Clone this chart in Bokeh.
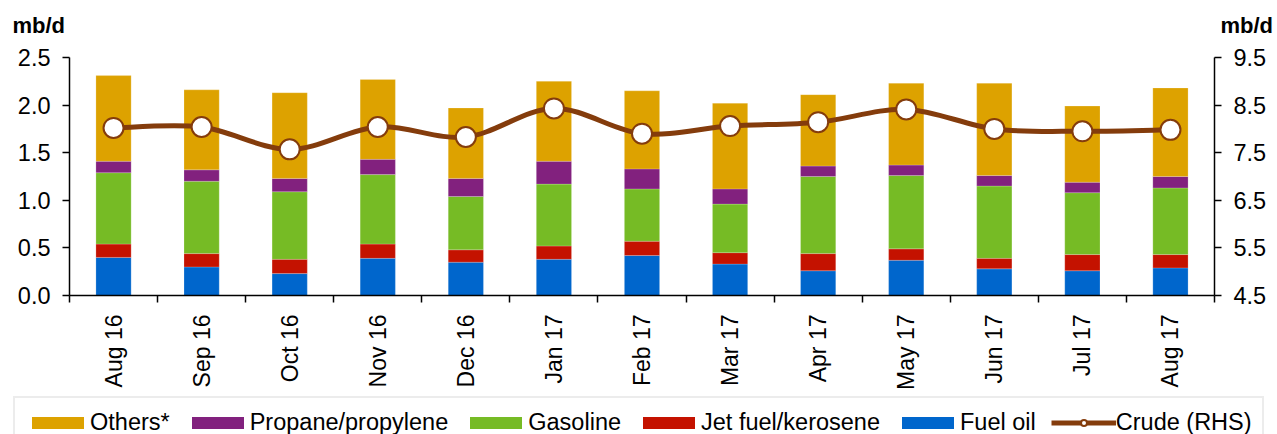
import numpy as np
from bokeh.plotting import figure
from bokeh.models import (Range1d, LinearAxis, FixedTicker, Legend, LegendItem,
                          ColumnDataSource, NumeralTickFormatter)
from bokeh.core.properties import value
from bokeh.embed import file_html
from bokeh.resources import INLINE

# ---------------- data ----------------
months = ["Aug 16", "Sep 16", "Oct 16", "Nov 16", "Dec 16", "Jan 17", "Feb 17",
          "Mar 17", "Apr 17", "May 17", "Jun 17", "Jul 17", "Aug 17"]
fuel_oil = [0.40, 0.30, 0.23, 0.39, 0.35, 0.38, 0.42, 0.33, 0.26, 0.37, 0.28, 0.26, 0.29]
jet_fuel = [0.14, 0.14, 0.15, 0.15, 0.13, 0.14, 0.15, 0.12, 0.18, 0.12, 0.11, 0.17, 0.14]
gasoline = [0.75, 0.76, 0.71, 0.73, 0.56, 0.65, 0.55, 0.51, 0.81, 0.77, 0.76, 0.65, 0.70]
propane = [0.12, 0.12, 0.14, 0.16, 0.19, 0.24, 0.21, 0.16, 0.11, 0.11, 0.11, 0.11, 0.12]
others = [0.90, 0.84, 0.90, 0.84, 0.74, 0.84, 0.82, 0.90, 0.75, 0.86, 0.97, 0.80, 0.93]
crude = [8.02, 8.04, 7.57, 8.04, 7.83, 8.43, 7.90, 8.06, 8.14, 8.41, 8.00, 7.95, 7.98]

left_ticks = [0.0, 0.5, 1.0, 1.5, 2.0, 2.5]
right_ticks = [4.5, 5.5, 6.5, 7.5, 8.5, 9.5]
unit_label = "mb/d"
series_names = ["Others*", "Propane/propylene", "Gasoline", "Jet fuel/kerosene",
                "Fuel oil", "Crude (RHS)"]

C_OTHERS = "#DDA200"
C_PROP = "#82217E"
C_GAS = "#76BB25"
C_JET = "#C41200"
C_FUEL = "#0066CC"
C_CRUDE = "#843C0C"
FONT = "Liberation Sans"
FS = "23.5px"
W = 1277

n = len(months)
xs = [i + 0.5 for i in range(n)]
stack_cols = ["fuel", "jet", "gas", "prop", "oth"]
stack_colors = [C_FUEL, C_JET, C_GAS, C_PROP, C_OTHERS]
src_data = dict(x=xs, fuel=fuel_oil, jet=jet_fuel, gas=gasoline, prop=propane,
                oth=others, crude=crude)

def bare(fig):
    fig.outline_line_color = None
    fig.xgrid.visible = False
    fig.ygrid.visible = False

# ---------------- top strip: unit labels ----------------
top = figure(width=W, height=40, output_backend="svg", toolbar_location=None,
             x_range=Range1d(0, W), y_range=Range1d(0, 40), min_border=0,
             title_location=None, x_axis_location=None, y_axis_location=None)
bare(top)
top.text(x=[12, 1220], y=[15, 15], text=[unit_label, unit_label],
         text_font=value(FONT), text_font_size="22px", text_font_style="bold",
         text_color="black", text_baseline="alphabetic", text_align="left")

# ---------------- main chart ----------------
p = figure(width=W, height=352, output_backend="svg", toolbar_location=None,
           x_range=Range1d(0, n), y_range=Range1d(0, 2.5), title_location=None,
           min_border_left=69, min_border_right=63, min_border_top=17,
           min_border_bottom=97, x_axis_location=None, y_axis_location=None)
p.extra_y_ranges = {"crude": Range1d(4.5, 9.5)}
bare(p)

src = ColumnDataSource(src_data)
p.vbar_stack(stack_cols, x="x", width=0.4, source=src, color=stack_colors,
             line_color="white", line_width=0.4, line_alpha=0.5)

# smooth crude line (cubic bezier through the data points)
x0s, y0s, x1s, y1s, cx0, cy0, cx1, cy1 = [], [], [], [], [], [], [], []
for i in range(n - 1):
    pa = (xs[i - 1], crude[i - 1]) if i > 0 else (xs[i], crude[i])
    pb = (xs[i], crude[i])
    pc = (xs[i + 1], crude[i + 1])
    pd = (xs[i + 2], crude[i + 2]) if i + 2 < n else (xs[i + 1], crude[i + 1])
    x0s.append(pb[0]); y0s.append(pb[1]); x1s.append(pc[0]); y1s.append(pc[1])
    cx0.append(pb[0] + (pc[0] - pa[0]) / 6); cy0.append(pb[1] + (pc[1] - pa[1]) / 6)
    cx1.append(pc[0] - (pd[0] - pb[0]) / 6); cy1.append(pc[1] - (pd[1] - pb[1]) / 6)
p.bezier(x0=x0s, y0=y0s, x1=x1s, y1=y1s, cx0=cx0, cy0=cy0, cx1=cx1, cy1=cy1,
         line_color=C_CRUDE, line_width=5, y_range_name="crude")
p.scatter("x", "crude", source=src, size=20, fill_color="white",
          line_color=C_CRUDE, line_width=2, y_range_name="crude")

def style_axis(ax):
    ax.axis_line_color = "black"
    ax.axis_line_width = 1.5
    ax.major_tick_line_color = "black"
    ax.major_tick_line_width = 1.5
    ax.minor_tick_line_color = "black"
    ax.minor_tick_line_width = 1.5
    ax.major_label_text_font = FONT
    ax.major_label_text_font_size = FS
    ax.major_label_text_color = "black"

left = LinearAxis(ticker=FixedTicker(ticks=left_ticks, minor_ticks=[]),
                  formatter=NumeralTickFormatter(format="0.0"))
style_axis(left)
left.major_tick_out = 7
left.major_tick_in = 0
left.major_label_standoff = 12
p.add_layout(left, "left")

right = LinearAxis(y_range_name="crude",
                   ticker=FixedTicker(ticks=right_ticks, minor_ticks=[]),
                   formatter=NumeralTickFormatter(format="0.0"))
style_axis(right)
right.major_tick_out = 7
right.major_tick_in = 0
right.major_label_standoff = 12
p.add_layout(right, "right")

bottom = LinearAxis(ticker=FixedTicker(ticks=xs, minor_ticks=list(range(n + 1))),
                    major_label_overrides={x: m for x, m in zip(xs, months)})
style_axis(bottom)
bottom.major_tick_out = 0
bottom.major_tick_in = 0
bottom.minor_tick_out = 7
bottom.minor_tick_in = 0
bottom.major_label_orientation = np.pi / 2
bottom.major_label_standoff = 12
bottom.major_label_text_font_size = "23px"
p.add_layout(bottom, "below")

# ---------------- legend strip ----------------
lg = figure(width=W, height=42, output_backend="svg", toolbar_location=None,
            x_range=Range1d(0, n), y_range=Range1d(0, 2.5), min_border=0,
            title_location=None, x_axis_location=None, y_axis_location=None)
bare(lg)
lsrc = ColumnDataSource(src_data)
proxies = lg.vbar_stack(stack_cols, x="x", width=0.4, source=lsrc,
                        color=stack_colors, line_color=None)
crude_line = lg.line("x", "crude", source=lsrc, line_color=C_CRUDE, line_width=5)
crude_dot = lg.scatter("x", "crude", source=lsrc, size=20, fill_color="white",
                       line_color=C_CRUDE, line_width=2)
for r in list(proxies) + [crude_line, crude_dot]:
    r.visible = False
renderer_sets = [[proxies[4]], [proxies[3]], [proxies[2]], [proxies[1]],
                 [proxies[0]], [crude_line, crude_dot]]
legend = Legend(items=[LegendItem(label=name, renderers=rs)
                       for name, rs in zip(series_names, renderer_sets)],
                orientation="horizontal", location=(13, -14), glyph_width=65,
                glyph_height=15, label_standoff=0, spacing=15, padding=10,
                margin=0, label_height=28, click_policy="none",
                inactive_fill_alpha=0,
                border_line_color="#D9D9D9", border_line_width=2,
                label_text_font=FONT, label_text_font_size=FS,
                label_text_color="black", background_fill_alpha=1)
lg.add_layout(legend, "center")

open("out.html", "w").write(file_html([top, p, lg], INLINE))
